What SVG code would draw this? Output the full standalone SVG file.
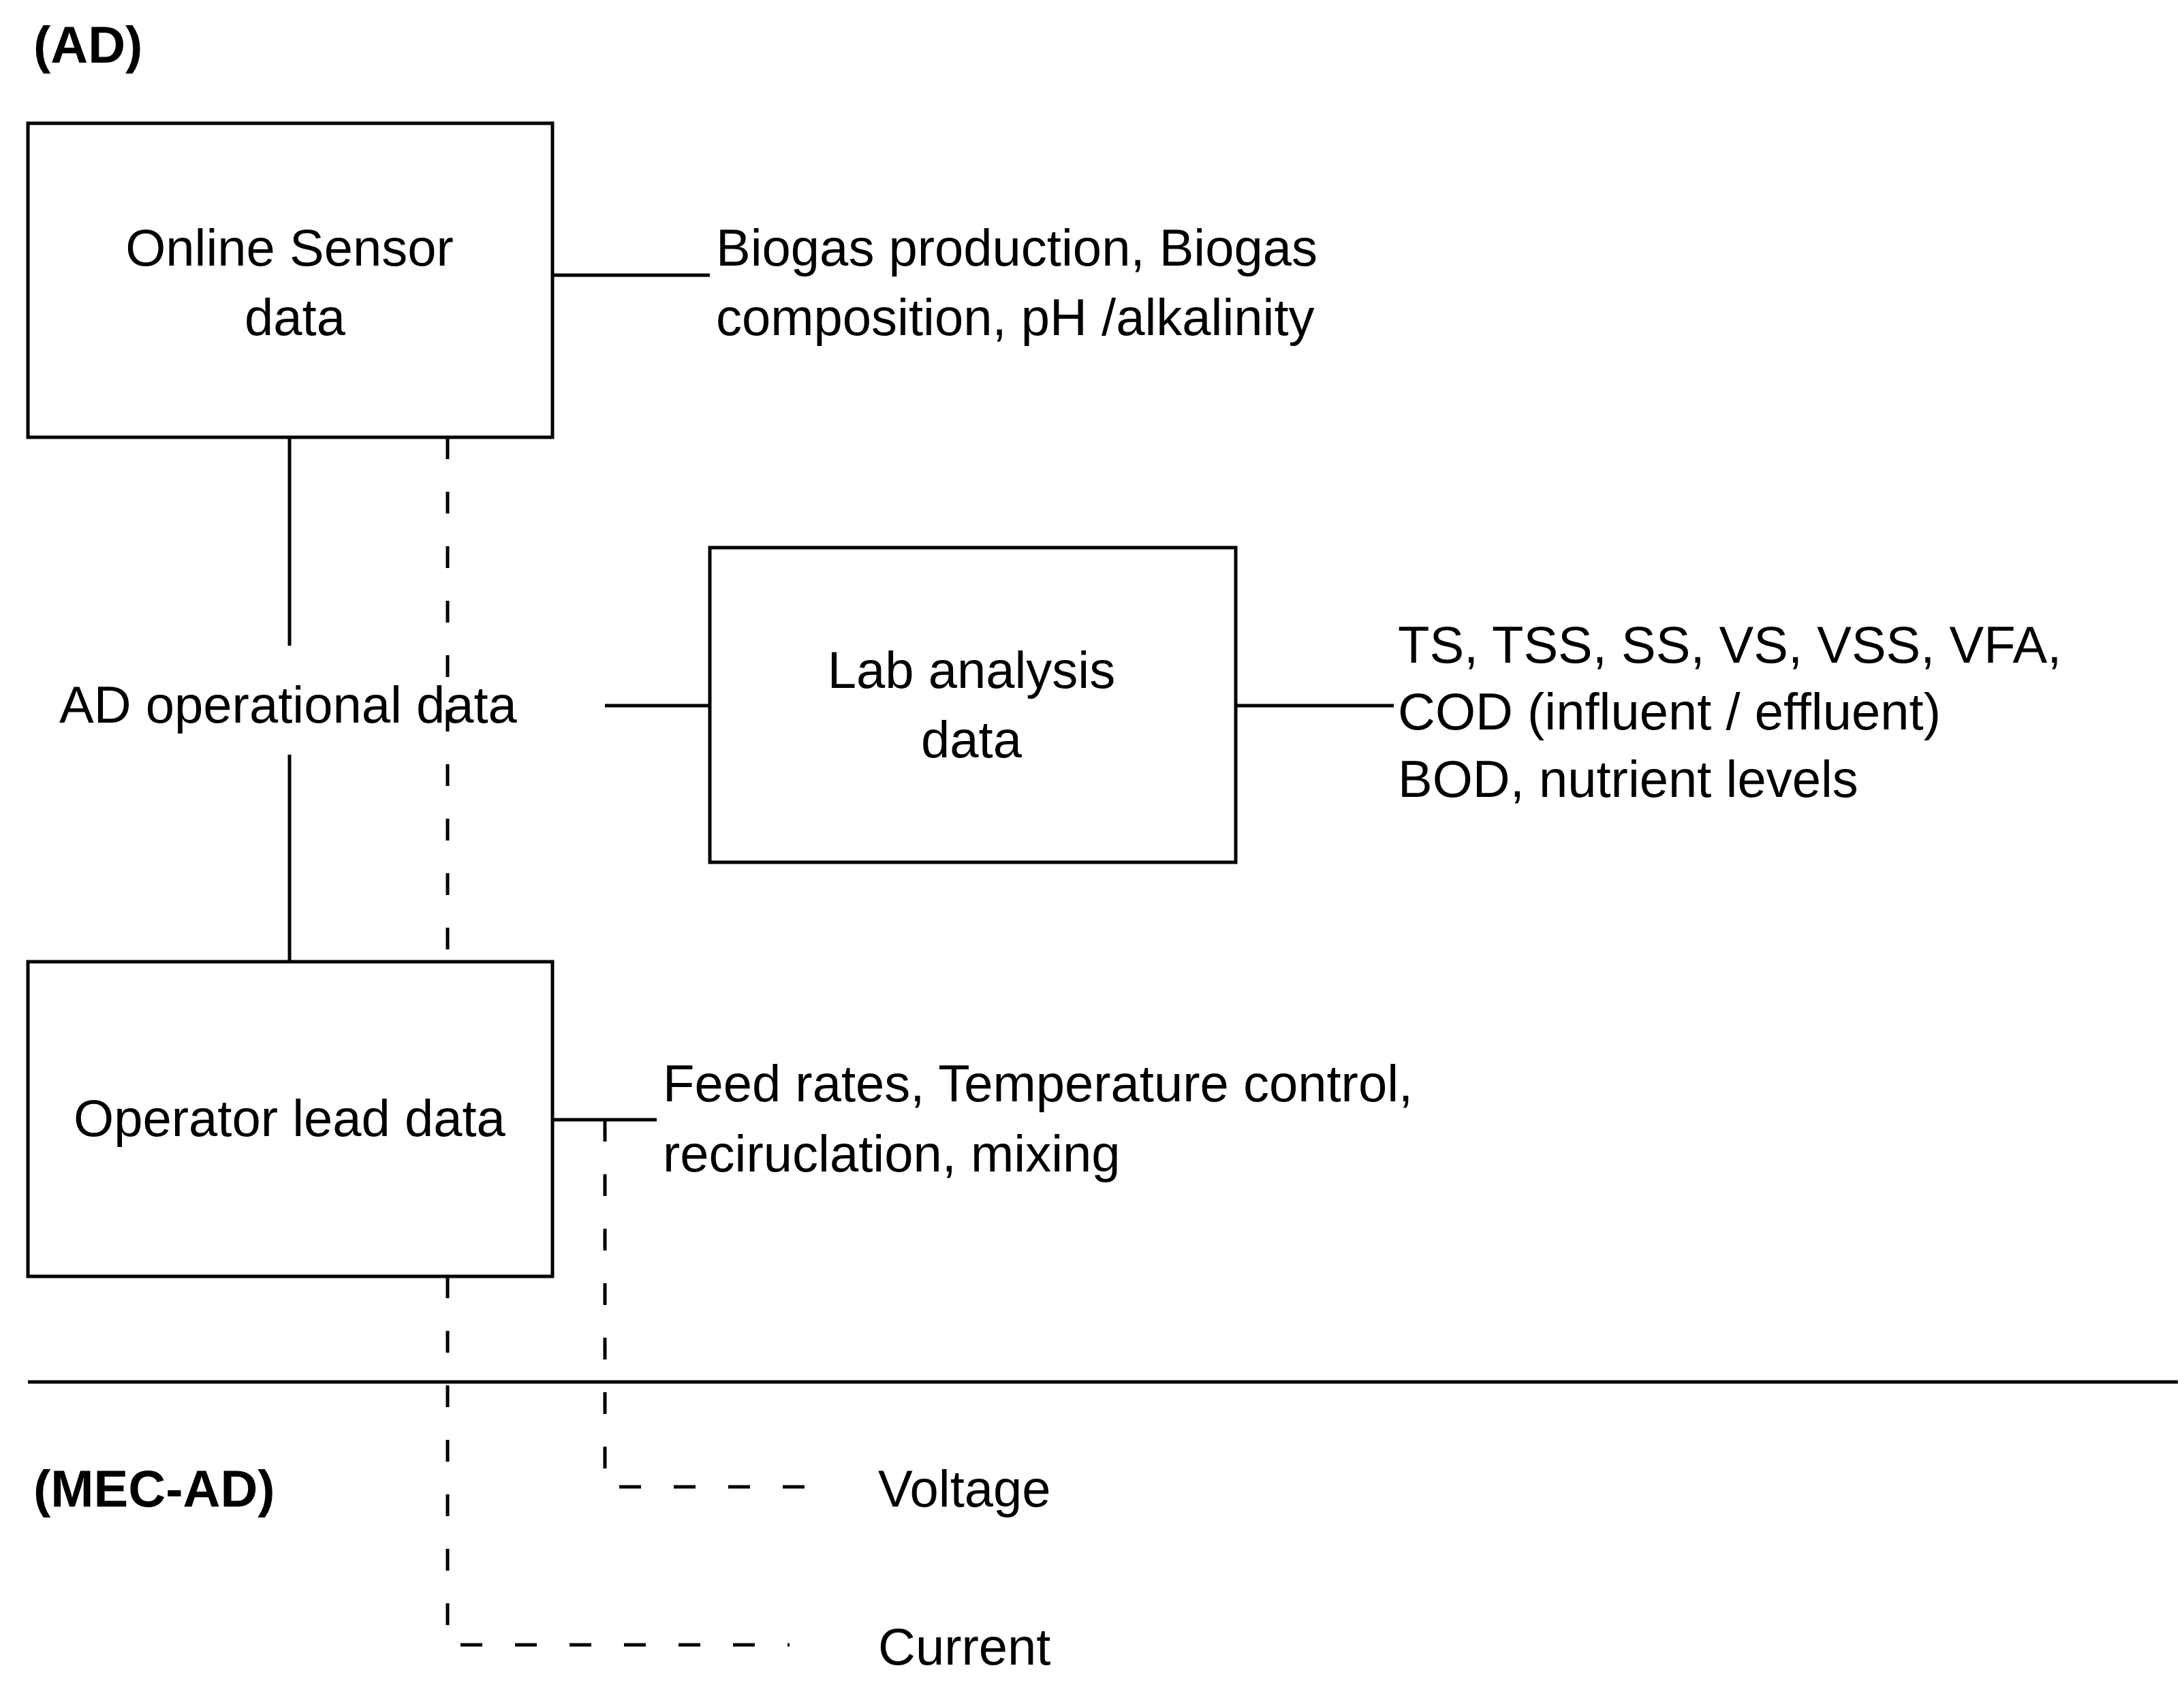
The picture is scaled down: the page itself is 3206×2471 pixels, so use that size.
<svg xmlns="http://www.w3.org/2000/svg" width="3206" height="2471" viewBox="0 0 3206 2471">
<style>
text{font-family:"Liberation Sans",Arial,sans-serif;font-size:76px;fill:#000}
.b{font-weight:bold}
.c{text-anchor:middle}
.box{fill:#fff;stroke:#000;stroke-width:5}
.l{stroke:#000;stroke-width:5;fill:none}
.d{stroke:#000;stroke-width:5;fill:none;stroke-dasharray:32 48}
</style>
<rect width="3206" height="2471" fill="#fff"/>
<g id="connectors">
<line class="l" x1="811" y1="404" x2="1042" y2="404"/>
<line class="l" x1="425" y1="642" x2="425" y2="948"/>
<line class="l" x1="425" y1="1108" x2="425" y2="1412"/>
<line class="d" x1="657" y1="642" x2="657" y2="1412"/>
<line class="l" x1="888" y1="1036" x2="1042" y2="1036"/>
<line class="l" x1="1814" y1="1036" x2="2046" y2="1036"/>
<line class="l" x1="811" y1="1644" x2="964" y2="1644"/>
<polyline class="d" points="888,1644 888,2183 1200,2183"/>
<polyline class="d" points="657,1874 657,2415 1159,2415"/>
<line class="l" x1="41" y1="2029" x2="3197" y2="2029"/>
</g>
<g id="online"><rect class="box" x="41" y="181" width="770" height="461"/>
<text class="c" x="425" y="390">Online Sensor</text><text class="c" x="433" y="492">data</text></g>
<g id="lab"><rect class="box" x="1042" y="804" width="772" height="462"/>
<text class="c" x="1426" y="1010">Lab analysis</text><text class="c" x="1426" y="1112">data</text></g>
<g id="operator"><rect class="box" x="41" y="1412" width="770" height="462"/>
<text class="c" x="425" y="1668">Operator lead data</text></g>
<g id="labels">
<text class="b" x="49" y="92">(AD)</text>
<text x="1051" y="390">Biogas production, Biogas</text>
<text x="1051" y="492">composition, pH /alkalinity</text>
<text class="c" x="423" y="1061">AD operational data</text>
<text x="2052" y="973">TS, TSS, SS, VS, VSS, VFA,</text>
<text x="2052" y="1071">COD (influent / effluent)</text>
<text x="2052" y="1170">BOD, nutrient levels</text>
<text x="973" y="1617">Feed rates, Temperature control,</text>
<text x="973" y="1720">reciruclation, mixing</text>
<text class="b" x="49" y="2212">(MEC-AD)</text>
<text x="1289" y="2212">Voltage</text>
<text x="1289" y="2444">Current</text>
</g>
</svg>
